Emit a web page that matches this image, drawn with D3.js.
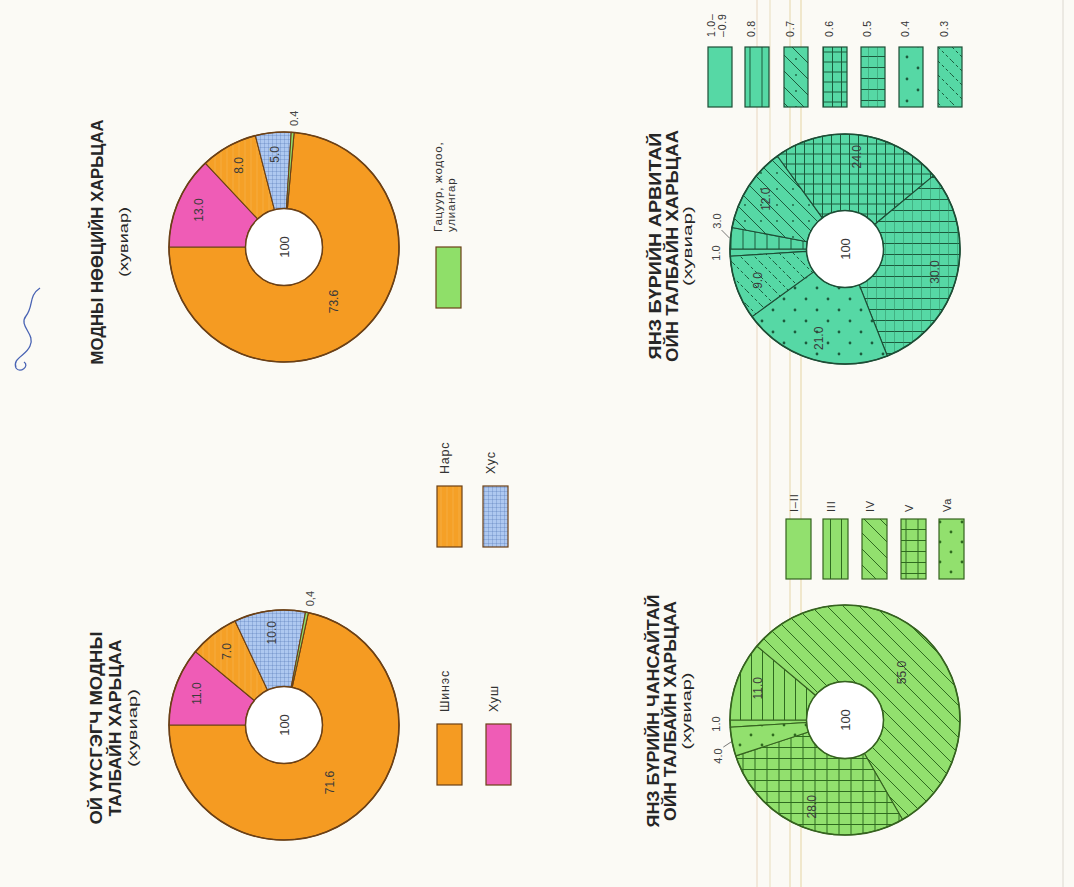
<!DOCTYPE html>
<html><head><meta charset="utf-8">
<script src="https://cdn.jsdelivr.net/npm/d3@7"></script>
<style>html,body{margin:0;padding:0;background:#fbfaf5}svg{display:block}</style>
</head><body>
<svg id="c" width="1074" height="887"></svg>
<script>
// ---------------- DATA ----------------
const speciesCategories = ["Шинэс", "Хуш", "Нарс", "Хус", "Гацуур, жодоо, улиангар"];
const speciesAreaValues = [71.6, 11.0, 7.0, 10.0, 0.4];
const speciesAreaLabels = ["71.6", "11.0", "7.0", "10.0", "0,4"];
const timberStockValues = [73.6, 13.0, 8.0, 5.0, 0.4];
const timberStockLabels = ["73.6", "13.0", "8.0", "5.0", "0.4"];

const qualityCategories = ["I–II", "III", "IV", "V", "Va"];
const qualityValues = [1.0, 11.0, 55.0, 28.0, 4.0];
const qualityLabels = ["1.0", "11.0", "55.0", "28.0", "4.0"];

const densityCategories = [["1.0–", "–0.9"], ["0.8"], ["0.7"], ["0.6"], ["0.5"], ["0.4"], ["0.3"]];
const densityValues = [1.0, 3.0, 12.0, 24.0, 30.0, 21.0, 9.0];
const densityLabels = ["1.0", "3.0", "12.0", "24.0", "30.0", "21.0", "9.0"];

const totalLabel = "100";
const title1 = ["ОЙ ҮҮСГЭГЧ МОДНЫ", "ТАЛБАЙН ХАРЬЦАА", "(хувиар)"];
const title2 = ["МОДНЫ НӨӨЦИЙН ХАРЬЦАА", "(хувиар)"];
const title3 = ["ЯНЗ БҮРИЙН ЧАНСАЙТАЙ", "ОЙН ТАЛБАЙН ХАРЬЦАА", "(хувиар)"];
const title4 = ["ЯНЗ БҮРИЙН АРВИТАЙ", "ОЙН ТАЛБАЙН ХАРЬЦАА", "(хувиар)"];

// ---------------- STYLES ----------------
const W = 1074, H = 887;
const ORANGE = "#F59B22", PINK = "#EF5CB6", GREEN_L = "#8FDF69";
const G3 = "#92E06E", G3L = "#2f6a1f";
const G4 = "#56D8A5", G4L = "#1c5b3d";
const FONT = "'Liberation Sans', Arial, sans-serif";

const svg = d3.select("#c");
svg.append("rect").attr("width", W).attr("height", H).attr("fill", "#fbfaf5");

// scan artefact lines
[[757, "#eddcc8"], [770, "#ece2c6"], [790, "#eadcb6"], [801, "#e9dab0"]].forEach(([x, c]) =>
  svg.append("line").attr("x1", x).attr("x2", x).attr("y1", 0).attr("y2", H)
    .attr("stroke", c).attr("stroke-width", 1.2));
svg.append("line").attr("x1", 1063).attr("x2", 1063).attr("y1", 0).attr("y2", H)
  .attr("stroke", "#dcd8d0").attr("stroke-width", 1);
svg.append("path").attr("d", "M40,288 C28,296 34,306 26,316 C18,326 36,334 30,346 C26,356 12,358 16,368 C20,374 30,366 24,362")
  .attr("fill", "none").attr("stroke", "#4a64b4").attr("stroke-width", 1.3);

// ---------------- PATTERNS ----------------
const defs = svg.append("defs");
function pat(id, w, h, bg, draw) {
  const p = defs.append("pattern").attr("id", id).attr("patternUnits", "userSpaceOnUse")
    .attr("width", w).attr("height", h).attr("patternTransform", "rotate(90)");
  p.append("rect").attr("width", w).attr("height", h).attr("fill", bg);
  draw(p);
}
const ln = (p, d, c, sw, extra) => { const e = p.append("path").attr("d", d).attr("stroke", c).attr("stroke-width", sw).attr("fill", "none"); if (extra) extra(e); return e; };
const dot = (p, x, y, r, c) => p.append("circle").attr("cx", x).attr("cy", y).attr("r", r).attr("fill", c);

pat("p-nars", 6, 6, "#F5A026", p => ln(p, "M3,0V6", "#F7B04A", 0.7));
pat("p-khus", 4, 4, "#AEC8F0", p => ln(p, "M0,0H4M0,0V4", "#4a6db0", 0.55));
// quality (bonitet) patterns, screen orientation
pat("q-III", 11, 10, G3, p => ln(p, "M5.5,0V10", G3L, 1));
pat("q-IV", 16, 16, G3, p => ln(p, "M0,0L16,16M-4,12L4,20M12,-4L20,4", G3L, 1));
pat("q-V", 12, 11, G3, p => ln(p, "M6,0V11M0,5.5H12", G3L, 1));
pat("q-Va", 22, 20, G3, p => { dot(p, 5, 5, 1.4, G3L); dot(p, 16, 15, 1.4, G3L); });
// density patterns
pat("d-08", 12, 10, G4, p => ln(p, "M6,0V10", G4L, 1));
pat("d-07", 16, 16, G4, p => { ln(p, "M0,0L16,16M-4,12L4,20M12,-4L20,4", G4L, 1); dot(p, 12, 4, 0.9, G4L); });
pat("d-06", 9, 10, G4, p => ln(p, "M4.5,0V10M0,5H9", G4L, 1));
pat("d-05", 9, 11, G4, p => { ln(p, "M0,5.5H9", G4L, 1); ln(p, "M4.5,0V11", "#2f8a60", 0.5); });
pat("d-04", 22, 22, G4, p => { dot(p, 5, 6, 1.4, G4L); dot(p, 16, 17, 1.4, G4L); });
pat("d-03", 14, 14, G4, p => ln(p, "M0,0L14,14M-4,10L4,18M10,-4L18,4", G4L, 1, e => e.attr("stroke-dasharray", "3,2.5")));

const speciesFills = [ORANGE, PINK, "url(#p-nars)", "url(#p-khus)", GREEN_L];
const qualityFills = [G3, "url(#q-III)", "url(#q-IV)", "url(#q-V)", "url(#q-Va)"];
const densityFills = [G4, "url(#d-08)", "url(#d-07)", "url(#d-06)", "url(#d-05)", "url(#d-04)", "url(#d-03)"];

// ---------------- ROTATED PAGE ----------------
// local (u,v) -> screen (v, H-u)
const g = svg.append("g").attr("transform", `translate(0,${H}) rotate(-90)`);
const R0 = 38.5, R1 = 115;

function donut(cfg) {
  const total = d3.sum(cfg.values);
  const start = -2 * Math.PI * cfg.values[0] / total;
  const pie = d3.pie().sort(null).value(d => d.v).startAngle(start).endAngle(start + 2 * Math.PI);
  const data = cfg.values.map((v, i) => ({ v, i, label: cfg.labels[i], fill: cfg.fills[i] }));
  const arcs = pie(data);
  const arc = d3.arc().innerRadius(R0).outerRadius(R1);
  const cg = g.append("g").attr("transform", `translate(${cfg.cx},${cfg.cy})`);
  cg.selectAll("path.slice").data(arcs).join("path").attr("class", "slice")
    .attr("d", arc).attr("fill", d => d.data.fill)
    .attr("stroke", cfg.stroke).attr("stroke-width", 1.1).attr("stroke-linejoin", "round");
  cg.append("circle").attr("r", R1).attr("fill", "none").attr("stroke", cfg.stroke).attr("stroke-width", 1.6);
  cg.append("circle").attr("r", R0).attr("fill", "#ffffff").attr("stroke", cfg.stroke).attr("stroke-width", 1.5);
  cg.append("text").text(totalLabel).attr("text-anchor", "middle").attr("dominant-baseline", "central")
    .attr("font-family", FONT).attr("font-size", 13).attr("fill", "#3a3a3a");

  const mid = a => (a.startAngle + a.endAngle) / 2;
  // inside labels
  arcs.filter(a => a.data.v > 4).forEach(a => {
    const r = a.data.v >= 40 ? 74 : 93, m = mid(a);
    cg.append("text").text(a.data.label)
      .attr("x", r * Math.sin(m)).attr("y", -r * Math.cos(m))
      .attr("text-anchor", "middle").attr("dominant-baseline", "central")
      .attr("font-family", FONT).attr("font-size", 12).attr("fill", "#3b3b3b");
  });
  // outside labels
  const outs = arcs.filter(a => a.data.v <= 4)
    .sort((a, b) => Math.abs(Math.sin(mid(a))) - Math.abs(Math.sin(mid(b))));
  const placed = [];
  outs.forEach(a => {
    const m = mid(a), r = 129;
    let x = r * Math.sin(m), y = -r * Math.cos(m), shifted = 0;
    placed.forEach(p => {
      if (Math.abs(x - p.x) < 30 && Math.abs(y - p.y) < 14) {
        shifted = Math.sign(x - p.x) || 1;
        x = p.x + shifted * 32;
      }
    });
    placed.push({ x, y });
    cg.append("text").text(a.data.label).attr("x", x).attr("y", y)
      .attr("text-anchor", "middle").attr("dominant-baseline", "central")
      .attr("font-family", FONT).attr("font-size", 11).attr("fill", "#444");
    if (shifted) {
      cg.append("line")
        .attr("x1", 116 * Math.sin(m)).attr("y1", -116 * Math.cos(m))
        .attr("x2", x - shifted * 9).attr("y2", y + 5)
        .attr("stroke", "#555").attr("stroke-width", 0.8);
    }
  });

  // title
  cfg.title.forEach((t, i) => {
    const small = t.startsWith("(");
    g.append("text").text(t).attr("x", cfg.titleU).attr("y", cfg.titleV[i])
      .attr("text-anchor", "middle").attr("font-family", FONT)
      .attr("font-size", small ? 13 : 17).attr("font-weight", small ? "normal" : "bold")
      .attr("fill", "#262626")
      .attr("textLength", cfg.titleLen[i]).attr("lengthAdjust", "spacingAndGlyphs");
  });
}

donut({ cx: 162, cy: 284, values: speciesAreaValues, labels: speciesAreaLabels, fills: speciesFills, stroke: "#6b4016",
  title: title1, titleU: 159, titleV: [102, 121, 137], titleLen: [193, 177, 78] });
donut({ cx: 640, cy: 284, values: timberStockValues, labels: timberStockLabels, fills: speciesFills, stroke: "#6b4016",
  title: title2, titleU: 645, titleV: [103, 128], titleLen: [245, 70] });
donut({ cx: 167, cy: 845, values: qualityValues, labels: qualityLabels, fills: qualityFills, stroke: "#35621f",
  title: title3, titleU: 176, titleV: [659, 676, 691], titleLen: [233, 220, 77] });
donut({ cx: 638, cy: 845, values: densityValues, labels: densityLabels, fills: densityFills, stroke: "#1d4d35",
  title: title4, titleU: 641, titleV: [661, 678, 692], titleLen: [227, 232, 80] });

// ---------------- LEGENDS ----------------
function box(u, v, w, h, fill, stroke) {
  g.append("rect").attr("x", u).attr("y", v).attr("width", w).attr("height", h)
    .attr("fill", fill).attr("stroke", stroke).attr("stroke-width", 1.2);
}
function label(lines, u, v, size, pitch) {
  lines.forEach((t, i) => g.append("text").text(t).attr("x", u).attr("y", v + i * pitch)
    .attr("font-family", FONT).attr("font-size", size).attr("fill", "#333").attr("letter-spacing", 0.8));
}
// species legend
const speciesLegendPos = [[102, 437], [102, 486], [340, 437], [340, 483], [579, 436]];
speciesCategories.forEach((c, i) => {
  const [u, v] = speciesLegendPos[i];
  box(u, v, 61, 25, speciesFills[i], "#6b4016");
  if (i === 4) label(["Гацуур, жодоо,", "улиангар"], u + 76, v + 6, 11.5, 13);
  else label([c], u + 12 + 61, v + 12, 12.5, 13);
});
// quality legend
const qualityLegendV = [786, 823, 862, 901, 939];
qualityCategories.forEach((c, i) => {
  box(308, qualityLegendV[i], 60, 25, qualityFills[i], "#35621f");
  label([c], 375, qualityLegendV[i] + 12, 11, 11);
});
// density legend
const densityLegendV = [708, 745, 784, 823, 861, 899, 938];
densityCategories.forEach((c, i) => {
  box(780, densityLegendV[i], 60, 24, densityFills[i], "#1d4d35");
  label(c, 850, densityLegendV[i] + (c.length > 1 ? 7 : 10), 10.5, 10.5);
});
</script>
</body></html>
